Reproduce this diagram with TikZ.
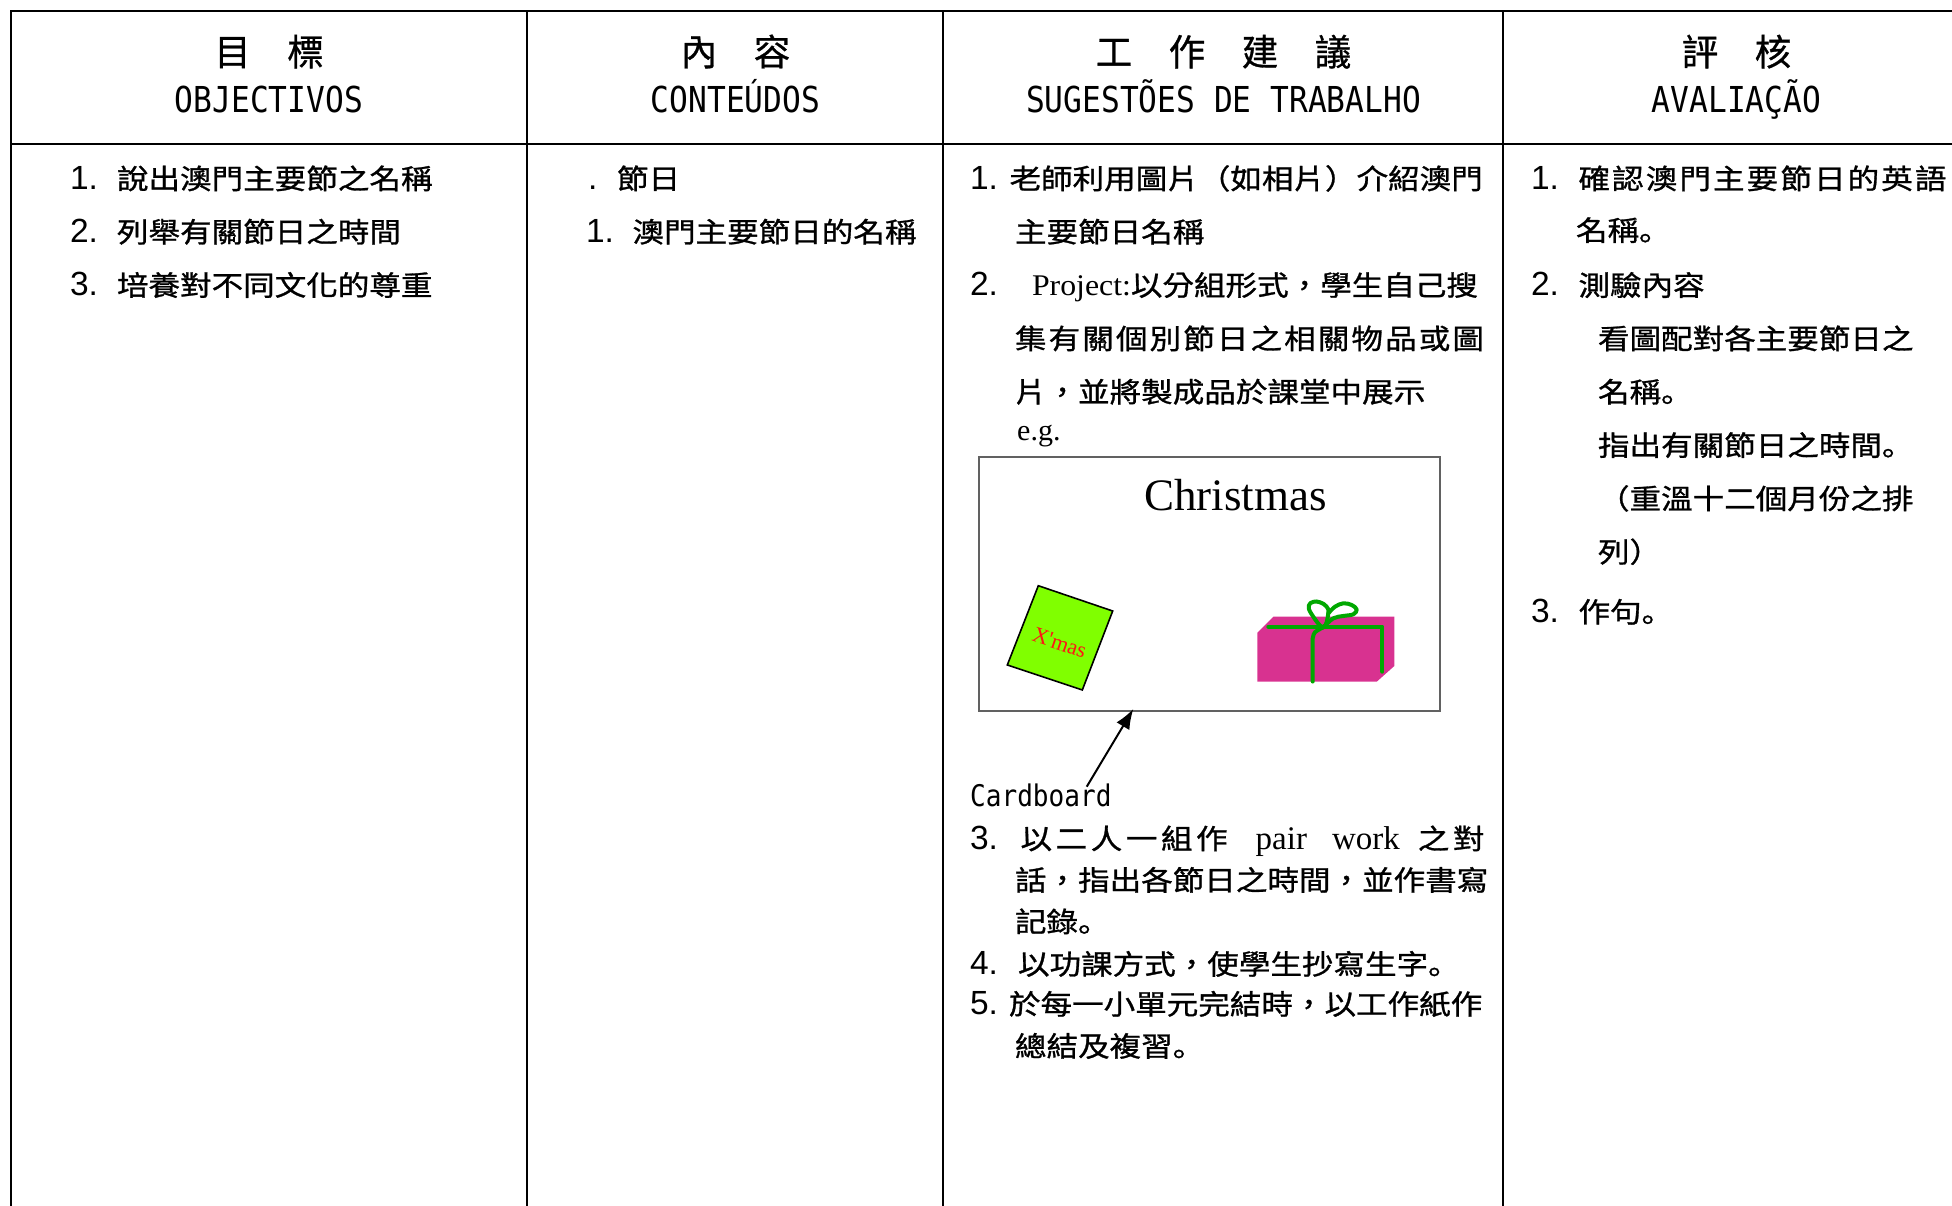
\documentclass[tikz,border=0pt]{standalone}
\usepackage{fontspec}
\usetikzlibrary{arrows.meta}
\newfontfamily\cjk[FakeStretch=1.135,FakeBold=1]{Noto Sans CJK TC}
\newfontfamily\cjkjp[FakeStretch=1.135,FakeBold=1]{Noto Sans CJK JP}
\newfontfamily\cjkh[FakeBold=0.8]{Noto Sans CJK TC}
\newfontfamily\numfont{Liberation Sans}
\newfontfamily\monof[FakeStretch=0.875]{DejaVu Sans Mono}
\newfontfamily\tmr{Liberation Serif}
\newfontfamily\tmrs[FakeStretch=1.06]{Liberation Serif}
\newcommand\maru{{\cjkjp 。}}
\newcommand\num[2]{\makebox[#1][l]{\numfont\fontsize{33.5}{34}\selectfont #2}}
\definecolor{limeg}{RGB}{128,255,0}
\definecolor{xred}{RGB}{255,20,20}
\definecolor{giftpink}{RGB}{216,50,144}
\definecolor{ribbon}{RGB}{0,168,0}
\makeatletter
\def\jl@a#1{#1\jl@b}
\def\jl@b#1{\ifx#1\relax\else\hfil#1\expandafter\jl@b\fi}
\newcommand\jline[2]{\hbox to #1{\jl@a#2\relax}}
\makeatother
\tikzset{
  txt/.style={anchor=base west, inner sep=0pt, outer sep=0pt, font=\cjk\fontsize{27.8}{30}\selectfont},
  hdc/.style={anchor=base, inner sep=0pt, font=\cjkh\fontsize{36.5}{40}\selectfont},
  hdl/.style={anchor=base, inner sep=0pt, font=\monof\fontsize{35.7}{40}\selectfont},
  rule/.style={line width=2pt, line cap=rect},
  rib/.style={draw=ribbon, line width=4pt, line cap=round, line join=round}
}
\begin{document}
\begin{tikzpicture}[x=1pt,y=-1pt]
\useasboundingbox (0,0) rectangle (1952,1205);
% table rules
\draw[rule] (10.6,11) -- (1960,11);
\draw[rule] (10.6,144) -- (1960,144);
\draw[rule] (10.6,11) -- (10.6,1210);
\draw[rule] (527,11) -- (527,1210);
\draw[rule] (942.5,11) -- (942.5,1210);
\draw[rule] (1503,11) -- (1503,1210);
% header
\node[hdc] (h1c) at (269,65.5) {目　標};
\node[hdl] (h1l) at (269,112.5) {OBJECTIVOS};
\node[hdc] (h2c) at (735.5,65.5) {內　容};
\node[hdl] (h2l) at (735.5,112.5) {CONTEÚDOS};
\node[hdc] (h3c) at (1223.5,65.5) {工　作　建　議};
\node[hdl] (h3l) at (1223.5,112.5) {SUGESTÕES DE TRABALHO};
\node[hdc] (h4c) at (1736.5,65.5) {評　核};
\node[hdl] (h4l) at (1736.5,112.5) {AVALIAÇÃO};
% column 1
\node[txt] (o1) at (70,189) {\num{47pt}{1.}說出澳門主要節之名稱};
\node[txt] (o2) at (70,242.3) {\num{47pt}{2.}列舉有關節日之時間};
\node[txt] (o3) at (70,295.6) {\num{47pt}{3.}培養對不同文化的尊重};
% column 2
\node[txt] (c1) at (588,189) {\num{29pt}{.}節日};
\node[txt] (c2) at (586,242.3) {\num{46.5pt}{1.}澳門主要節日的名稱};
% column 3
\node[txt] (s1) at (970,189) {\num{39.5pt}{1.}老師利用圖片（如相片）介紹澳門};
\node[txt] (s1b) at (1015,242.3) {主要節日名稱};
\node[txt] (s2) at (970,295.6) {\num{62pt}{2.}{\tmrs\fontsize{30}{30}\selectfont Project:}以分組形式，學生自己搜};
\node[txt] (s2b) at (1015,349) {\jline{469pt}{集有關個別節日之相關物品或圖}};
\node[txt] (s2c) at (1015,402.3) {片，並將製成品於課堂中展示};
\node[anchor=base west, inner sep=0pt, font=\tmr\fontsize{30}{30}\selectfont] (eg) at (1017,440) {e.g.};
% card box
\draw[draw=black!62, line width=1.5pt] (979,457) rectangle (1440,711);
\node[anchor=base, inner sep=0pt, font=\tmr\fontsize{45}{45}\selectfont] (xmaslbl) at (1235.5,510) {Christmas};
\filldraw[fill=limeg, draw=black, line width=1.6pt, line join=miter] (1038.3,585.7) -- (1112.7,611) -- (1082.3,690) -- (1007.3,665) -- cycle;
\node[rotate=-18.8, text=xred, inner sep=0pt, font=\tmr\fontsize{22}{22}\selectfont] (xmas) at (1059.5,643) {X'mas};
% gift
\fill[giftpink] (1257.3,632.7) -- (1273.3,616.7) -- (1394.3,616.7) -- (1394.3,666) -- (1376.7,681.7) -- (1257.3,681.7) -- cycle;
\draw[rib] (1268.3,626.7) -- (1382.3,626.7) -- (1382.3,671.7);
\draw[rib] (1312.7,681.5) -- (1312.7,638.3) .. controls (1314,632) .. (1323.3,627.3);
\draw[rib] plot[smooth cycle, tension=0.7] coordinates {(1323.3,627.3) (1311.5,614) (1308.8,605.5) (1313.5,601.8) (1320,602.3) (1326.5,606.5) (1328.3,613.3)};
\draw[rib] plot[smooth, tension=0.6] coordinates {(1323.3,627.3) (1333.3,618.3) (1343.3,616) (1353.3,614.3) (1356.7,609.5) (1351.7,605) (1343.3,603.3) (1335,606.7) (1328.3,613.3)};
% arrow
\node[anchor=base west, inner sep=0pt, font=\monof\fontsize{29.8}{30}\selectfont] (cardboard) at (970,806.7) {Cardboard};
\coordinate (cbtail) at (1086.7,786.7);
\coordinate (cbtip) at (1133.3,709);
\draw[line width=2pt, -{Latex[length=20pt,width=15pt]}] (cbtail) -- (cbtip);
% items 3-5
\node[txt] (s3) at (970,849) {\num{50.5pt}{3.}\hbox to 464pt{以\hfil 二\hfil 人\hfil 一\hfil 組\hfil 作\hskip 28pt{\tmr\fontsize{33}{33}\selectfont pair}\hskip 25pt{\tmr\fontsize{33}{33}\selectfont work}\hskip 18pt 之\hfil 對}};
\node[txt] (s3b) at (1015,890.5) {話，指出各節日之時間，並作書寫};
\node[txt] (s3c) at (1015,932) {記錄\maru};
\node[txt] (s4) at (970,974.5) {\num{48pt}{4.}以功課方式，使學生抄寫生字\maru};
\node[txt] (s5) at (970,1014.5) {\num{39pt}{5.}於每一小單元完結時，以工作紙作};
\node[txt] (s5b) at (1015,1056.5) {總結及複習\maru};
% column 4
\node[txt] (a1) at (1531,189) {\num{47.5pt}{1.}\jline{368pt}{確認澳門主要節日的英語}};
\node[txt] (a1b) at (1576,240.7) {名稱\maru};
\node[txt] (a2) at (1531,295.7) {\num{47.5pt}{2.}測驗內容};
\node[txt] (a2a) at (1598,349) {看圖配對各主要節日之};
\node[txt] (a2b) at (1598,402.3) {名稱\maru};
\node[txt] (a2c) at (1598,455.7) {指出有關節日之時間\maru};
\node[txt] (a2d) at (1598,509) {（重溫十二個月份之排};
\node[txt] (a2e) at (1598,562.3) {列）};
\node[txt] (a3) at (1531,622.3) {\num{47.5pt}{3.}作句\maru};
\end{tikzpicture}
\end{document}
